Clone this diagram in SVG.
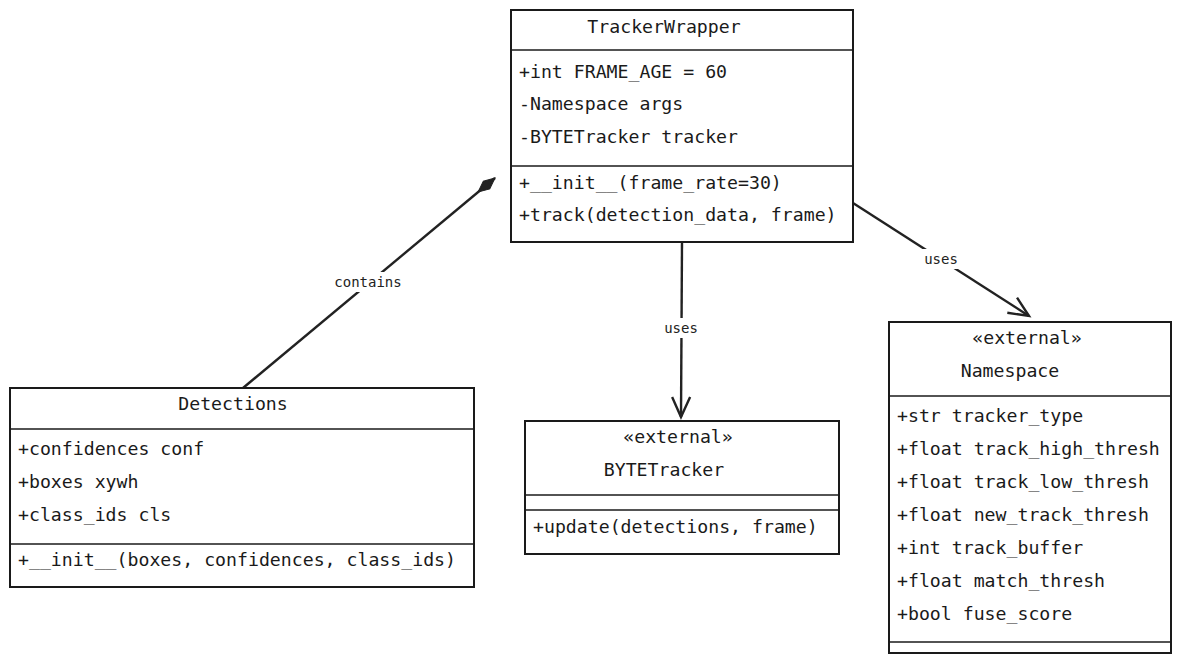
<svg xmlns="http://www.w3.org/2000/svg" width="1181" height="664" viewBox="0 0 1181 664">
<style>
.box{fill:#fff;stroke:#1a1a1a;stroke-width:2}
.div{stroke:#1a1a1a;stroke-width:1.6}
.t{font-family:"DejaVu Sans Mono","Liberation Mono",monospace;font-size:18.2px;fill:#1a1a1a}
.c{text-anchor:middle}
.edge{fill:none;stroke:#222;stroke-width:2.4}
.lbl{font-family:"DejaVu Sans Mono","Liberation Mono",monospace;font-size:14px;fill:#222;text-anchor:middle}
.lbg{fill:#fff}
</style>
<defs>
<marker id="open" markerUnits="userSpaceOnUse" viewBox="-22 -11 26 22" refX="0" refY="0" markerWidth="26" markerHeight="22" orient="auto">
<path d="M -20 -9 L 0 0 L -20 9" fill="none" stroke="#222" stroke-width="2.4"/>
</marker>
<marker id="diamond" markerUnits="userSpaceOnUse" viewBox="-24 -8 26 16" refX="0" refY="0" markerWidth="26" markerHeight="16" orient="auto">
<path d="M 0 0 L -11 -5 L -22 0 L -11 5 Z" fill="#222" stroke="#222" stroke-width="1"/>
</marker>
</defs>
<g id="connectors">
<line class="edge" x1="243" y1="388" x2="495" y2="178" marker-end="url(#diamond)"/>
<line class="edge" x1="682" y1="242" x2="681" y2="417" marker-end="url(#open)"/>
<line class="edge" x1="853" y1="203" x2="1029" y2="316" marker-end="url(#open)"/>
<rect class="lbg" x="331" y="272" width="74" height="20"/>
<text class="lbl" x="368" y="287">contains</text>
<rect class="lbg" x="662" y="318" width="38" height="20"/>
<text class="lbl" x="681" y="333">uses</text>
<rect class="lbg" x="922" y="249" width="38" height="20"/>
<text class="lbl" x="941" y="264">uses</text>
</g>
<g id="TrackerWrapper">
<rect class="box" x="511" y="10" width="342" height="232"/>
<line class="div" x1="511" y1="50" x2="853" y2="50"/>
<line class="div" x1="511" y1="166" x2="853" y2="166"/>
<text class="t c" x="664" y="33">TrackerWrapper</text>
<text class="t" x="519" y="78">+int FRAME_AGE = 60</text>
<text class="t" x="519" y="110">-Namespace args</text>
<text class="t" x="519" y="143">-BYTETracker tracker</text>
<text class="t" x="519" y="189">+__init__(frame_rate=30)</text>
<text class="t" x="519" y="221">+track(detection_data, frame)</text>
</g>
<g id="Detections">
<rect class="box" x="10" y="388" width="464" height="199"/>
<line class="div" x1="10" y1="429" x2="474" y2="429"/>
<line class="div" x1="10" y1="544" x2="474" y2="544"/>
<text class="t c" x="233" y="410">Detections</text>
<text class="t" x="18" y="455">+confidences conf</text>
<text class="t" x="18" y="488">+boxes xywh</text>
<text class="t" x="18" y="521">+class_ids cls</text>
<text class="t" x="18" y="566">+__init__(boxes, confidences, class_ids)</text>
</g>
<g id="BYTETracker">
<rect class="box" x="525" y="421" width="314" height="133"/>
<line class="div" x1="525" y1="495" x2="839" y2="495"/>
<line class="div" x1="525" y1="510" x2="839" y2="510"/>
<text class="t c" x="678" y="443">«external»</text>
<text class="t c" x="664" y="476">BYTETracker</text>
<text class="t" x="533" y="533">+update(detections, frame)</text>
</g>
<g id="Namespace">
<rect class="box" x="889" y="322" width="282" height="331"/>
<line class="div" x1="889" y1="396" x2="1171" y2="396"/>
<line class="div" x1="889" y1="642" x2="1171" y2="642"/>
<text class="t c" x="1027" y="344">«external»</text>
<text class="t c" x="1010" y="377">Namespace</text>
<text class="t" x="897" y="422">+str tracker_type</text>
<text class="t" x="897" y="455">+float track_high_thresh</text>
<text class="t" x="897" y="488">+float track_low_thresh</text>
<text class="t" x="897" y="521">+float new_track_thresh</text>
<text class="t" x="897" y="554">+int track_buffer</text>
<text class="t" x="897" y="587">+float match_thresh</text>
<text class="t" x="897" y="620">+bool fuse_score</text>
</g>
</svg>
